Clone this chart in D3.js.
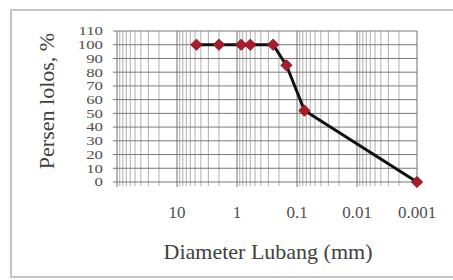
<!DOCTYPE html>
<html lang="id">
<head>
  <meta charset="UTF-8">
  <title>Persen lolos vs Diameter Lubang</title>
  <script src="https://d3js.org/d3.v7.min.js"></script>
  <style>
    body {
      margin: 0;
      background: #fff;
    }
    svg text {
      font-family: "Liberation Serif", "Times New Roman", serif;
    }
  </style>
</head>
<body>
  <div id="chart"></div>
  <script>
    // sieve sizes (mm) and percent passing
    const diameters = [4.75, 2, 0.85, 0.6, 0.25, 0.15, 0.075, 0.001];
    const passing = [100, 100, 100, 100, 100, 85, 52, 0];
    const xTickLabels = ["10", "1", "0.1", "0.01", "0.001"];
    const xTickValues = [10, 1, 0.1, 0.01, 0.001];
    const yTicks = d3.range(0, 111, 10);

    const width = 453;
    const height = 280;
    const plot = { left: 117, right: 417, top: 31, bottom: 182 };

    const svg = d3.select("#chart").append("svg")
      .attr("width", width)
      .attr("height", height);

    // outer chart frame
    svg.append("rect")
      .attr("x", 11).attr("y", 10)
      .attr("width", 460).attr("height", 267)
      .attr("fill", "#fff")
      .attr("stroke", "#c4c4c4")
      .attr("stroke-width", 2);

    const x = d3.scaleLog()
      .domain([100, 0.001])
      .range([plot.left, plot.right]);

    const y = d3.scaleLinear()
      .domain([0, 110])
      .range([plot.bottom, plot.top]);

    // log grid: minor lines 2..9 inside each decade, then majors
    const decades = [0.001, 0.01, 0.1, 1, 10];
    const minors = [];
    decades.forEach(d => d3.range(2, 10).forEach(k => minors.push(k * d)));
    const majors = [0.001, 0.01, 0.1, 1, 10, 100];

    const grid = svg.append("g");

    grid.selectAll(".vminor")
      .data(minors)
      .join("line")
      .attr("x1", d => x(d)).attr("x2", d => x(d))
      .attr("y1", plot.top).attr("y2", plot.bottom + 4)
      .attr("stroke", "#9a9a9a")
      .attr("stroke-width", 0.8);

    grid.selectAll(".hgrid")
      .data(yTicks)
      .join("line")
      .attr("x1", plot.left - 4).attr("x2", plot.right)
      .attr("y1", d => y(d)).attr("y2", d => y(d))
      .attr("stroke", "#7a7a7a")
      .attr("stroke-width", 1);

    grid.selectAll(".vmajor")
      .data(majors)
      .join("line")
      .attr("x1", d => x(d)).attr("x2", d => x(d))
      .attr("y1", plot.top).attr("y2", plot.bottom + 5)
      .attr("stroke", "#6e6e6e")
      .attr("stroke-width", 1);

    // y tick labels: squat, wide digits packed tight like the source
    svg.append("g").selectAll("text")
      .data(yTicks)
      .join("text")
      .attr("transform", d => `translate(103,${y(d)}) scale(1.4,1)`)
      .attr("dy", "0.36em")
      .attr("text-anchor", "end")
      .attr("font-size", 12)
      .attr("fill", "#505050")
      .text(d => d);

    // x tick labels
    svg.append("g").selectAll("text")
      .data(xTickValues)
      .join("text")
      .attr("x", d => x(d))
      .attr("y", 218)
      .attr("text-anchor", "middle")
      .attr("font-size", 17)
      .attr("fill", "#505050")
      .text((d, i) => xTickLabels[i]);

    // axis titles
    svg.append("text")
      .attr("x", 268)
      .attr("y", 259)
      .attr("text-anchor", "middle")
      .attr("font-size", 22)
      .attr("fill", "#404040")
      .text("Diameter Lubang (mm)");

    svg.append("text")
      .attr("transform", "translate(54,101) rotate(-90)")
      .attr("text-anchor", "middle")
      .attr("font-size", 22)
      .attr("fill", "#404040")
      .text("Persen lolos, %");

    // data line and diamond markers
    const pts = diameters.map((d, i) => [d, passing[i]]);

    svg.append("path")
      .datum(pts)
      .attr("fill", "none")
      .attr("stroke", "#111")
      .attr("stroke-width", 3)
      .attr("d", d3.line().x(d => x(d[0])).y(d => y(d[1])));

    svg.append("g").selectAll("path")
      .data(pts)
      .join("path")
      .attr("transform", d => `translate(${x(d[0])},${y(d[1])})`)
      .attr("d", d3.symbol().type(d3.symbolDiamond2).size(80))
      .attr("fill", "#a81c2c")
      .attr("stroke", "#8e1524")
      .attr("stroke-width", 1);
  </script>
</body>
</html>
